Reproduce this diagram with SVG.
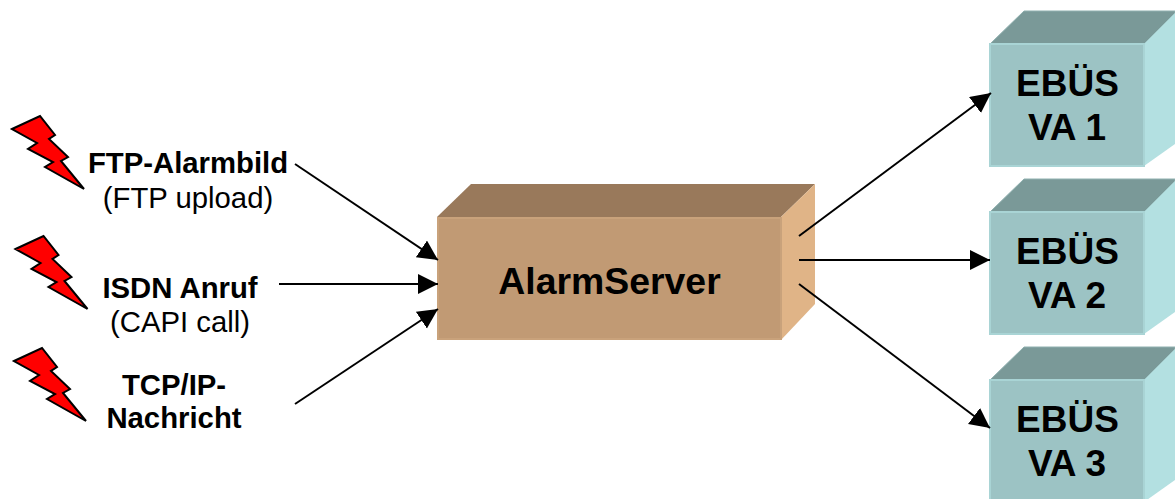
<svg xmlns="http://www.w3.org/2000/svg" width="1175" height="499" viewBox="0 0 1175 499">
<style>
text{font-family:"Liberation Sans",Arial,sans-serif;fill:#000;text-anchor:middle}
.b{font-weight:bold;font-size:29.300px}
.r{font-size:29.300px}
.big{font-weight:bold;font-size:37px}
.bolt{fill:#f00;stroke:#000;stroke-width:2;stroke-linejoin:miter}
.line{stroke:#000;stroke-width:2;fill:none;marker-end:url(#a)}
.vf{fill:#9cc3c4;stroke:#a9d4d5;stroke-width:2}
.vt{fill:#7a9998;stroke:#8fb0af;stroke-width:1}
.vs{fill:#b3e0e1}
</style>
<defs>
<marker id="a" markerUnits="userSpaceOnUse" markerWidth="22" markerHeight="22" refX="20" refY="10" orient="auto"><path d="M0 0L20 10L0 20Z" fill="#000"/></marker>
<path id="bolt" class="bolt" d="M12 129L40 116L55 135L49 139L68 157L61 161L84 189L45 167L53 162L28 149L37 143Z"/>
</defs>
<g id="bolt-1"><use href="#bolt"/></g>
<g id="bolt-2"><use href="#bolt" x="3.500" y="120"/></g>
<g id="bolt-3"><use href="#bolt" x="2" y="232"/></g>
<g id="ftp"><text class="b" x="188" y="173">FTP-Alarmbild</text><text class="r" x="188" y="208">(FTP upload)</text></g>
<g id="isdn"><text class="b" x="180" y="298">ISDN Anruf</text><text class="r" x="180" y="332">(CAPI call)</text></g>
<g id="tcp"><text class="b" x="174" y="395">TCP/IP-</text><text class="b" x="174" y="428">Nachricht</text></g>
<g id="server">
<path d="M437 217L471 184H815L781 217Z" fill="#99795b"/>
<path d="M781 217L815 184V304L781 340Z" fill="#e0b487"/>
<rect x="438" y="218" width="343" height="121" fill="#c19a74" stroke="#c9a27b" stroke-width="2"/>
<text class="big" x="609.500" y="294" style="font-size:37.400px">AlarmServer</text>
</g>
<g id="va1">
<path d="M990 44L1024 11H1175V13L1144 44Z" class="vt"/>
<path d="M1144 44L1175 13V144L1144 166Z" class="vs"/>
<rect x="990" y="44" width="154" height="122" class="vf"/>
<text class="big" x="1067.500" y="96">EBÜS</text><text class="big" x="1067" y="140">VA 1</text>
</g>
<g id="va2">
<path d="M990 212L1024 179H1175V181L1144 212Z" class="vt"/>
<path d="M1144 212L1175 181V312L1144 334Z" class="vs"/>
<rect x="990" y="212" width="154" height="122" class="vf"/>
<text class="big" x="1067.500" y="264">EBÜS</text><text class="big" x="1067" y="308">VA 2</text>
</g>
<g id="va3">
<path d="M990 380L1024 347H1175V349L1144 380Z" class="vt"/>
<path d="M1144 380L1175 349V480L1144 502Z" class="vs"/>
<rect x="990" y="380" width="154" height="122" class="vf"/>
<text class="big" x="1067.500" y="432">EBÜS</text><text class="big" x="1067" y="476">VA 3</text>
</g>
<g id="connectors">
<line class="line" x1="295" y1="164" x2="438" y2="260"/>
<line class="line" x1="279" y1="284" x2="438" y2="284"/>
<line class="line" x1="295" y1="404" x2="438" y2="309"/>
<line class="line" x1="799" y1="236" x2="991" y2="93"/>
<line class="line" x1="799" y1="260" x2="990" y2="260"/>
<line class="line" x1="799" y1="284" x2="990" y2="428"/>
</g>
</svg>
